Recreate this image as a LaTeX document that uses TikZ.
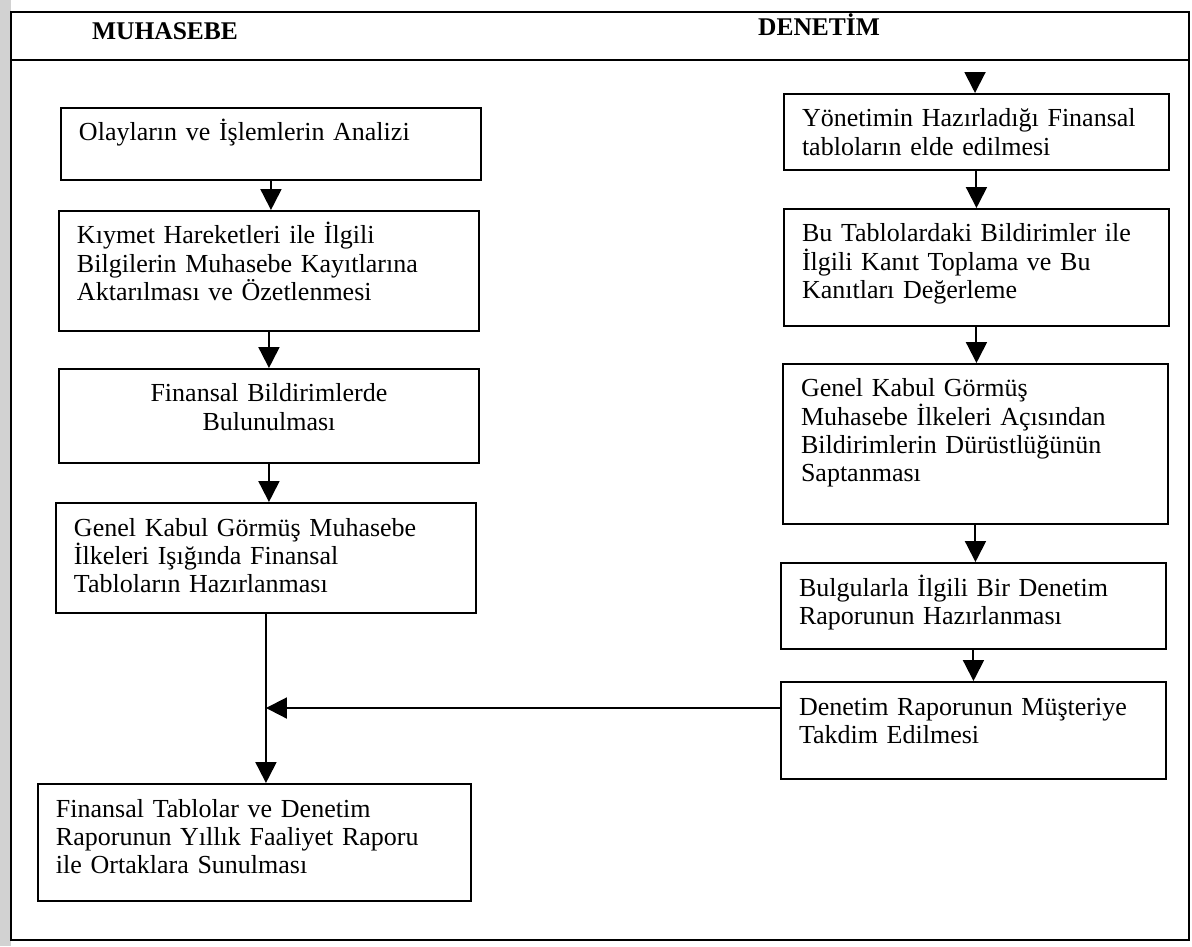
\documentclass[tikz,border=0pt]{standalone}
\usepackage{fontspec}
\setmainfont{Liberation Serif}
\usetikzlibrary{arrows.meta}

\begin{document}
\begin{tikzpicture}[x=0.02cm, y=-0.02cm,
  stepbox/.style={draw, line width=0.04cm, anchor=north west, align=left,
    inner xsep=0.36cm, inner ysep=0.3cm, text height=0.36cm,
    font=\fontsize{14.8}{16.1}\selectfont},
  lbox/.style={stepbox, text width=7.68cm},
  rbox/.style={stepbox, text width=6.98cm},
  flow/.style={line width=0.04cm, -{Triangle[width=0.42cm,length=0.42cm]}},
  head/.style={font=\fontsize{14.5}{16}\selectfont\bfseries}]
\useasboundingbox (0,0) rectangle (1192,946);
\fill[gray!35] (0,0) rectangle (11,946);
\draw[line width=0.04cm] (11,12) rectangle (1189,940);
\draw[line width=0.04cm] (11,60) -- (1189,60);
\node[head] (muh) at (165,31) {MUHASEBE};
\node[head] (den) at (819,25) {DENETİM};

\node[lbox, text depth=0.48cm] (l1) at (60,107) {Olayların ve İşlemlerin Analizi};
\node[lbox, text depth=1.44cm] (l2) at (58,210) {Kıymet Hareketleri ile İlgili\\ Bilgilerin Muhasebe Kayıtlarına\\ Aktarılması ve Özetlenmesi};
\node[lbox, align=center, text depth=0.92cm] (l3) at (58,368) {Finansal Bildirimlerde\\ Bulunulması};
\node[lbox, text depth=1.24cm] (l4) at (55,502) {Genel Kabul Görmüş Muhasebe\\ İlkeleri Işığında Finansal\\ Tabloların Hazırlanması};
\node[lbox, text width=7.94cm, text depth=1.38cm] (l5) at (37,783) {Finansal Tablolar ve Denetim\\ Raporunun Yıllık Faaliyet Raporu\\ ile Ortaklara Sunulması};

\node[rbox, text depth=0.56cm] (r1) at (783,93) {Yönetimin Hazırladığı Finansal\\ tabloların elde edilmesi};
\node[rbox, text depth=1.38cm] (r2) at (783,208) {Bu Tablolardaki Bildirimler ile\\ İlgili Kanıt Toplama ve Bu\\ Kanıtları Değerleme};
\node[rbox, text depth=2.24cm] (r3) at (782,363) {Genel Kabul Görmüş\\ Muhasebe İlkeleri Açısından\\ Bildirimlerin Dürüstlüğünün\\ Saptanması};
\node[rbox, text depth=0.76cm] (r4) at (780,562) {Bulgularla İlgili Bir Denetim\\ Raporunun Hazırlanması};
\node[rbox, text depth=0.98cm] (r5) at (780,681) {Denetim Raporunun Müşteriye\\ Takdim Edilmesi};

\foreach \a/\b in {l1/l2, l2/l3, l3/l4, l4/l5, r1/r2, r2/r3, r3/r4, r4/r5}
  \draw[flow] (\a.south) -- (\a.south |- \b.north);
\coordinate (rin) at (975,76);
\draw[flow] (rin) -- (rin |- r1.north);
% rapor sola, ortaklara giden hatta
\coordinate (join) at (l4.south |- 0,708);
\draw[flow] (r5.west |- join) -- (join);
\end{tikzpicture}
\end{document}
